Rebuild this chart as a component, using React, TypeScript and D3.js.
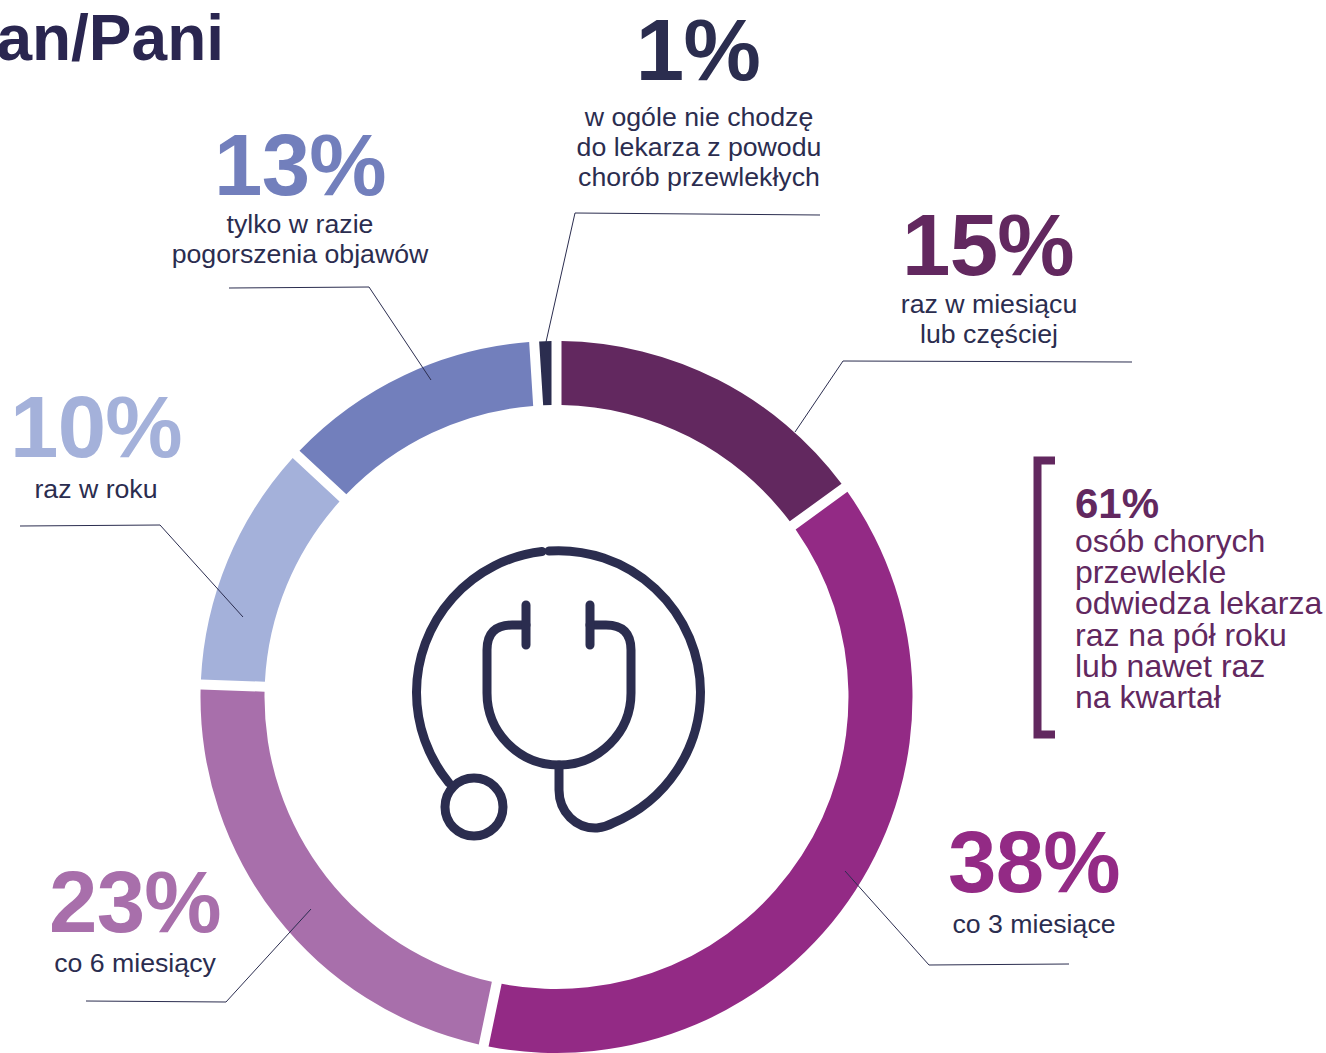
import React from 'react';
import * as d3 from 'd3';

// arc shares measured off the ring (they differ slightly from the rounded labels)
const categories = ['monthly', 'quarter', 'halfYear', 'year', 'worse', 'never'];
const sliceShares = [15, 38.28, 22.28, 11.38, 12.06, 1];
const percentLabels = ['15%', '38%', '23%', '10%', '13%', '1%'];
const captions = [
  ['raz w miesiącu', 'lub częściej'],
  ['co 3 miesiące'],
  ['co 6 miesiący'],
  ['raz w roku'],
  ['tylko w razie', 'pogorszenia objawów'],
  ['w ogóle nie chodzę', 'do lekarza z powodu', 'chorób przewlekłych'],
];
const noteTitle = '61%';
const noteLines = ['osób chorych', 'przewlekle', 'odwiedza lekarza', 'raz na pół roku', 'lub nawet raz', 'na kwartał'];

const colors = ['#62285f', '#932a85', '#a86fab', '#a4b1da', '#727fbc', '#2b2d4f'];
const ink = '#2b2d4f';
const font = '"Liberation Sans", Arial, sans-serif';

const width = 1326;
const height = 1053;
const cx = 556.5;
const cy = 697;
const outerR = 356;
const innerR = 292;
const gap = 10;

// layout of the callouts, same order as categories
const labelPos = [
  { x: 988, y: 275, capX: 989, capY: 313 },
  { x: 1034, y: 892, capX: 1034, capY: 933 },
  { x: 135, y: 932, capX: 135, capY: 972 },
  { x: 96, y: 457, capX: 96, capY: 498 },
  { x: 300, y: 195, capX: 300, capY: 233 },
  { x: 698, y: 80, capX: 699, capY: 126 },
];
const leaders: [number, number][][] = [
  [[1132, 362], [843, 361], [795, 432]],
  [[1069, 964], [929, 965], [845, 871]],
  [[86, 1001], [226, 1002], [311, 909]],
  [[20, 526], [160, 525], [243, 617]],
  [[229, 288], [369, 287], [431, 380]],
  [[820, 215], [575, 213], [546, 342]],
];

const pie = d3.pie<number>().sort(null);
const arc = d3
  .arc<d3.PieArcDatum<number>>()
  .innerRadius(innerR)
  .outerRadius(outerR)
  .padRadius(innerR)
  .padAngle(gap / innerR);
const line = d3.line();

function Stethoscope() {
  return (
    <g fill="none" stroke={ink} strokeWidth={9} strokeLinecap="round">
      <path d="M549 551 A142 142 0 0 1 700.5 692 A142 142 0 0 1 613 823 Q606 827 597 828 C576 829 559 812 559 790 L559 765" />
      <path d="M542 551.5 A142 142 0 0 0 416.5 692 A142 142 0 0 0 449 783" />
      <circle cx={474} cy={807} r={29} />
      <path d="M526 625 L512 625 Q487 625 487 650 L487 693 A72 72 0 0 0 631 693 L631 650 Q631 625 606 625 L590 625" />
      <path d="M526 605 L526 645 M590 605 L590 645" />
    </g>
  );
}

export default function App() {
  const slices = pie(sliceShares);
  return (
    <svg
      width={width}
      height={height}
      viewBox={`0 0 ${width} ${height}`}
      style={{ position: 'absolute', left: 0, top: 0, display: 'block', background: '#fff' }}
      fontFamily={font}
    >
      <text x={224} y={60} textAnchor="end" fontSize={64} fontWeight={700} fill="#2a2650">
        an/Pani
      </text>

      <g transform={`translate(${cx},${cy})`}>
        {slices.map((s, i) => (
          <path key={categories[i]} d={arc(s) as string} fill={colors[i]} />
        ))}
      </g>

      {leaders.map((pts, i) => (
        <path key={i} d={line(pts) as string} fill="none" stroke={ink} strokeWidth={1} />
      ))}

      <Stethoscope />

      {categories.map((c, i) => (
        <g key={c} textAnchor="middle">
          <text x={labelPos[i].x} y={labelPos[i].y} fontSize={87} letterSpacing={-0.7} fontWeight={700} fill={colors[i]}>
            {percentLabels[i]}
          </text>
          {captions[i].map((t, j) => (
            <text key={t} x={labelPos[i].capX} y={labelPos[i].capY + j * 30} fontSize={26.7} fill={ink}>
              {t}
            </text>
          ))}
        </g>
      ))}

      <path d="M1055 460.5 L1037.5 460.5 L1037.5 734.5 L1055 734.5" fill="none" stroke="#62285f" strokeWidth={8} />
      <text x={1075} y={518} fontSize={42} fontWeight={700} fill="#62285f">
        {noteTitle}
      </text>
      {noteLines.map((t, i) => (
        <text key={t} x={1075} y={552 + i * 31.2} fontSize={32} fill="#62285f">
          {t}
        </text>
      ))}
    </svg>
  );
}
